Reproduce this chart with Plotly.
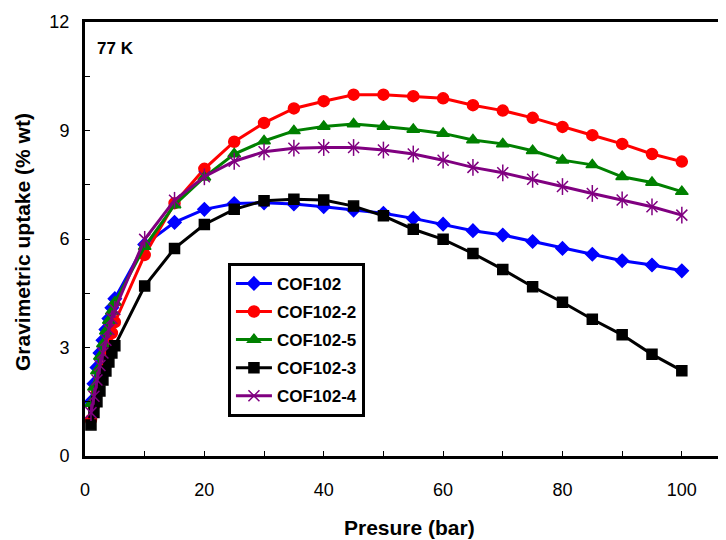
import plotly.graph_objects as go

pressure = [1, 1.5, 2, 2.5, 3, 3.5, 4, 4.5, 5,
            10, 15, 20, 25, 30, 35, 40, 45, 50, 55, 60, 65, 70, 75, 80, 85, 90, 95, 100]

cof102 = [1.5, 2.0, 2.45, 2.85, 3.2, 3.5, 3.8, 4.1, 4.35,
          5.85, 6.46, 6.82, 6.98, 7.0, 6.97, 6.89, 6.8, 6.71, 6.57, 6.41, 6.23, 6.11, 5.93, 5.74, 5.58, 5.4, 5.28, 5.12]
cof102_2 = [1.0, 1.4, 1.75, 2.1, 2.45, 2.8, 3.1, 3.4, 3.7,
            5.56, 6.99, 7.94, 8.69, 9.21, 9.61, 9.81, 9.99, 9.99, 9.95, 9.89, 9.7, 9.55, 9.35, 9.1, 8.87, 8.63, 8.35, 8.14]
cof102_5 = [1.45, 1.9, 2.35, 2.75, 3.1, 3.45, 3.75, 4.0, 4.25,
            5.79, 6.94, 7.71, 8.35, 8.71, 8.99, 9.11, 9.18, 9.11, 9.03, 8.92, 8.74, 8.63, 8.44, 8.18, 8.05, 7.72, 7.56, 7.31]
cof102_3 = [0.86, 1.2, 1.5, 1.8, 2.1, 2.35, 2.6, 2.85, 3.05,
            4.70, 5.74, 6.40, 6.82, 7.06, 7.10, 7.08, 6.91, 6.64, 6.27, 5.99, 5.60, 5.16, 4.68, 4.25, 3.78, 3.35, 2.81, 2.36]
cof102_4 = [1.2, 1.65, 2.1, 2.5, 2.85, 3.2, 3.5, 3.8, 4.05,
            5.99, 7.07, 7.72, 8.15, 8.41, 8.51, 8.53, 8.53, 8.46, 8.35, 8.18, 7.98, 7.83, 7.65, 7.45, 7.26, 7.08, 6.89, 6.66]

series_names = ["COF102", "COF102-2", "COF102-5", "COF102-3", "COF102-4"]
series_values = [cof102, cof102_2, cof102_5, cof102_3, cof102_4]
colors = ["#0000FF", "#FF0000", "#008000", "#000000", "#800080"]
symbols = ["diamond", "circle", "triangle-up", "square", "x-thin-open"]
sizes = [10, 11, 11, 10, 11]

FONT = "Liberation Sans, Arial, sans-serif"

fig = go.Figure()
for name, vals, c, s, sz in zip(series_names, series_values, colors, symbols, sizes):
    fig.add_trace(go.Scatter(
        x=pressure, y=vals, name=name, mode="lines+markers",
        line=dict(color=c, width=3),
        marker=dict(symbol=s, size=sz, color=c, line=dict(color=c, width=1.5)),
        legendgroup=name,
    ))
# vertical bar of the asterisk marker for COF102-4
fig.add_trace(go.Scatter(
    x=pressure, y=cof102_4, mode="markers", showlegend=False, legendgroup="COF102-4",
    marker=dict(symbol="line-ns-open", size=12, color=colors[4], line=dict(color=colors[4], width=1.5)),
    hoverinfo="skip",
))

fig.add_annotation(text="<b>77 K</b>", xref="paper", yref="paper", x=0.015, y=0.965,
                   xanchor="left", yanchor="top", showarrow=False,
                   font=dict(family=FONT, size=17, color="black"))
# axis titles
fig.add_annotation(text="<b>Presure (bar)</b>", xref="paper", yref="paper", x=0.507, y=-0.1636,
                   xanchor="center", yanchor="middle", showarrow=False,
                   font=dict(family=FONT, size=21, color="black"))
fig.add_annotation(text="<b>Gravimetric uptake (% wt)</b>", xref="paper", yref="paper", x=-0.0983, y=0.493,
                   xanchor="center", yanchor="middle", showarrow=False, textangle=-90,
                   font=dict(family=FONT, size=21, color="black"))

fig.update_layout(
    width=718, height=532,
    margin=dict(l=77, r=0, t=14, b=84, autoexpand=False),
    plot_bgcolor="white", paper_bgcolor="white",
    font=dict(family=FONT, color="black"),
    legend=dict(x=0.223, y=0.445, xanchor="left", yanchor="top",
                bordercolor="black", borderwidth=3, bgcolor="white",
                font=dict(family=FONT, size=17, color="black", weight="bold"),
                tracegroupgap=3, itemwidth=36),
    showlegend=True,
)
fig.update_xaxes(
    range=[0, 107.4], dtick=20, tick0=0, automargin=False,
    showgrid=False, zeroline=False,
    showline=True, linecolor="black", linewidth=3, mirror=True,
    ticks="inside", ticklen=5, tickwidth=1, tickcolor="black",
    minor=dict(dtick=10, ticks="inside", ticklen=5, tickwidth=1, tickcolor="black"),
    tickfont=dict(family=FONT, size=18, color="black"),
    ticklabelstandoff=15,
)
fig.update_yaxes(
    range=[0, 12], dtick=3, tick0=0, automargin=False,
    showgrid=False, zeroline=False,
    showline=True, linecolor="black", linewidth=3, mirror=False,
    ticks="inside", ticklen=5, tickwidth=1, tickcolor="black",
    minor=dict(dtick=1.5, ticks="inside", ticklen=5, tickwidth=1, tickcolor="black"),
    tickfont=dict(family=FONT, size=18, color="black"),
    ticklabelstandoff=9,
)

fig.write_html("out.html")
